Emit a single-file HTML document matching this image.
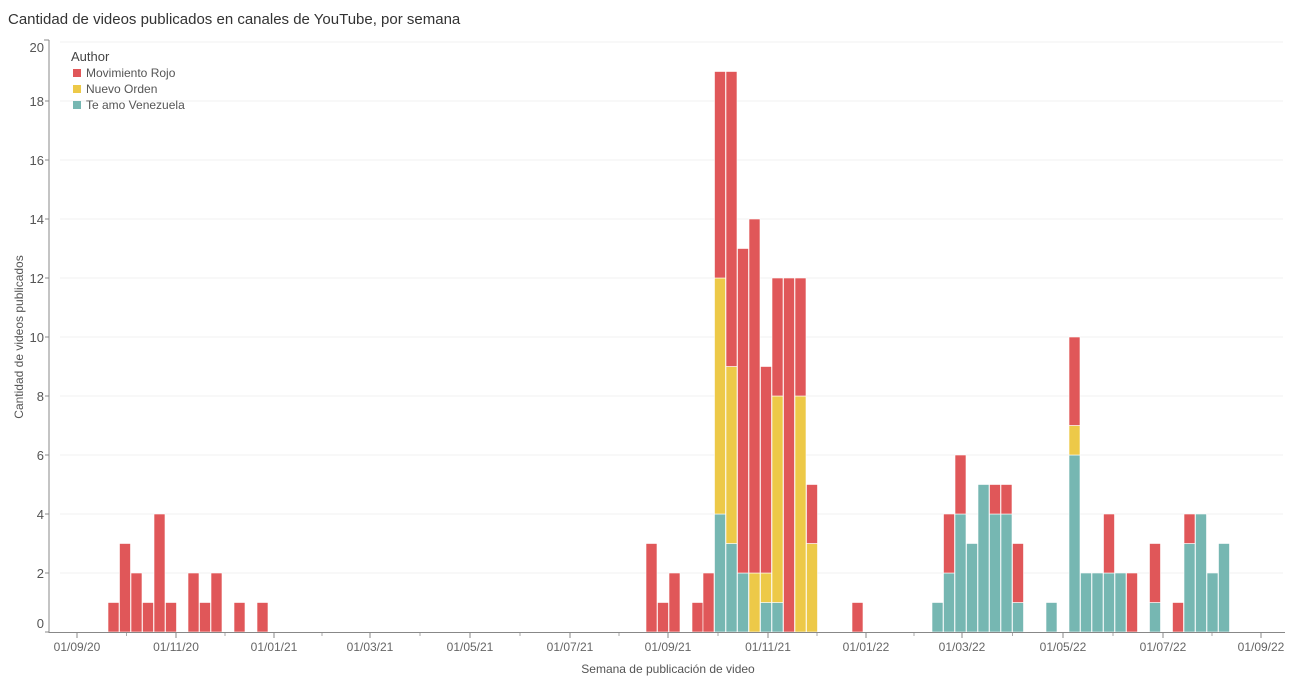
<!DOCTYPE html><html><head><meta charset="utf-8"><style>body{margin:0;background:#fff;font-family:"Liberation Sans",sans-serif}</style></head><body>
<svg width="1300" height="686" xmlns="http://www.w3.org/2000/svg" font-family="Liberation Sans, sans-serif">
<text x="8" y="24" font-size="15" fill="#333">Cantidad de videos publicados en canales de YouTube, por semana</text>
<g id="grid" stroke="#f0f0f0" stroke-width="1"></g>
<g id="bars"></g>
<line x1="49" y1="40" x2="49" y2="633" stroke="#888"/>
<line x1="44" y1="40" x2="49" y2="40" stroke="#888"/>
<line x1="49" y1="632.5" x2="1285" y2="632.5" stroke="#888"/>
<g id="yl" font-size="13" fill="#555" text-anchor="end"></g>
<g id="xl" font-size="12" fill="#666" text-anchor="middle"></g>
<text transform="translate(23,337) rotate(-90)" font-size="12" fill="#555" text-anchor="middle">Cantidad de videos publicados</text>
<text x="668" y="673" font-size="12" fill="#555" text-anchor="middle">Semana de publicación de video</text>
<text x="71" y="61" font-size="13" fill="#444">Author</text>
<rect x="73" y="69" width="8" height="8" fill="#e05759"/><text x="86" y="77" font-size="12" fill="#555">Movimiento Rojo</text>
<rect x="73" y="85" width="8" height="8" fill="#edc948"/><text x="86" y="93" font-size="12" fill="#555">Nuevo Orden</text>
<rect x="73" y="101" width="8" height="8" fill="#76b7b2"/><text x="86" y="109" font-size="12" fill="#555">Te amo Venezuela</text>
</svg>
<script>
const NS="http://www.w3.org/2000/svg";
function el(p,t,a,txt){const e=document.createElementNS(NS,t);for(const k in a)e.setAttribute(k,a[k]);if(txt!==undefined)e.textContent=txt;document.getElementById(p).appendChild(e);}
const Y=v=>632-29.5*v;
for(let v=0;v<=20;v+=2){if(v>0)el("grid","line",{x1:60,x2:1283,y1:Y(v),y2:Y(v)});
 let yy=Y(v)+5; if(v==0)yy=628; if(v==20)yy=52;
 el("yl","text",{x:44,y:yy},String(v)); if(v<20)el("yl","line",{x1:45,x2:49,y1:Y(v),y2:Y(v),stroke:"#888"});}
const xs=[77,176,274,370,470,570,668,768,866,962,1063,1163,1261];
const lb=["01/09/20","01/11/20","01/01/21","01/03/21","01/05/21","01/07/21","01/09/21","01/11/21","01/01/22","01/03/22","01/05/22","01/07/22","01/09/22"];
xs.forEach((x,i)=>{el("xl","text",{x:x,y:651},lb[i]);el("xl","line",{x1:x,x2:x,y1:633,y2:638,stroke:"#888"});
 if(i<12)el("xl","line",{x1:(x+xs[i+1])/2,x2:(x+xs[i+1])/2,y1:633,y2:636,stroke:"#aaa"});});
// [x, teal, yellow, red]
const B=[[108,0,0,1],[119.5,0,0,3],[131,0,0,2],[142.5,0,0,1],[154,0,0,4],[165.5,0,0,1],[188,0,0,2],[199.5,0,0,1],[211,0,0,2],[234,0,0,1],[257,0,0,1],
[646,0,0,3],[657.5,0,0,1],[669,0,0,2],[692,0,0,1],[703,0,0,2],[714.5,4,8,7],[726,3,6,10],[737.5,2,0,11],[749,0,2,12],[760.5,1,1,7],[772,1,7,4],[783.5,0,0,12],[795,0,8,4],[806.5,0,3,2],[852,0,0,1],
[932,1,0,0],[943.5,2,0,2],[955,4,0,2],[966.5,3,0,0],[978,5,0,0],[989.5,4,0,1],[1001,4,0,1],[1012.5,1,0,2],[1046,1,0,0],[1069,6,1,3],[1080.5,2,0,0],[1092,2,0,0],[1103.5,2,0,2],[1115,2,0,0],[1126.5,0,0,2],[1149.5,1,0,2],[1172.5,0,0,1],[1184,3,0,1],[1195.5,4,0,0],[1207,2,0,0],[1218.5,3,0,0]];
const C=["#76b7b2","#edc948","#e05759"];
B.forEach(b=>{let base=0;for(let k=0;k<3;k++){const v=b[k+1];if(!v)continue;
 el("bars","rect",{x:b[0],y:Y(base+v),width:11,height:29.5*v,fill:C[k],stroke:"#fff","stroke-width":0.6});base+=v;}});
</script>
</body></html>
